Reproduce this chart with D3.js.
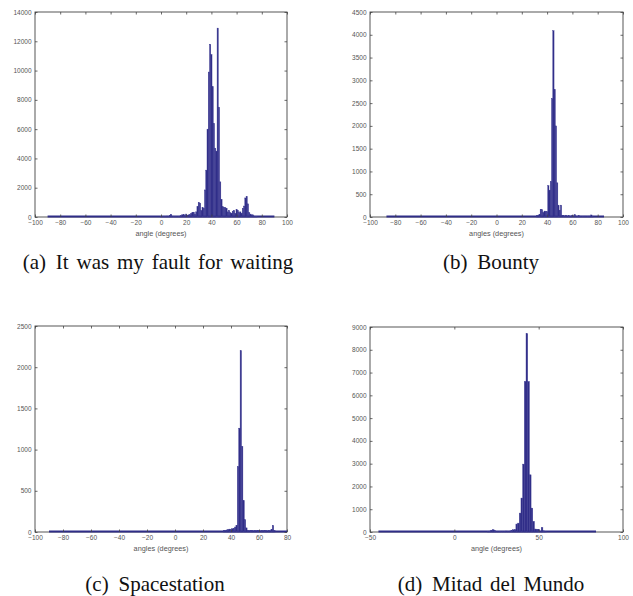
<!DOCTYPE html>
<html>
<head>
<meta charset="utf-8">
<script src="https://cdn.jsdelivr.net/npm/d3@7"></script>
<style>
  body { margin: 0; background: #fff; }
  svg { display: block; }
  .caption { font-family: "Liberation Serif", "Times New Roman", Times, serif; }
  .tick text, .axis-label { font-family: "Liberation Sans", Arial, Helvetica, sans-serif; }
</style>
</head>
<body>
<div id="home"></div>
<script>
// histogram counts, 1 degree bins, first value is the bin centred on firstX
var firstA = 0;
var countsA = [20, 20, 30, 20, 40, 60, 40, 120, 190, 60,
    30, 30, 40, 30, 40, 60, 100, 150, 180, 90,
    200, 120, 150, 180, 250, 320, 330, 200, 350, 700,
    1000, 950, 450, 650, 600, 1850, 3200, 6000, 9900, 11800,
    11100, 8900, 6400, 4700, 4500, 12900, 7500, 2400, 1200, 700,
    650, 650, 600, 350, 450, 300, 250, 400, 450, 250,
    500, 450, 300, 350, 250, 600, 750, 1300, 1400, 900,
    300, 200, 150, 150, 60, 40, 30];
var firstB = 32;
var countsB = [30, 40, 60, 170, 160, 100, 130, 120, 120, 690,
    590, 780, 2600, 4090, 2800, 2000, 750, 260, 150, 260,
    40, 30, 20, 40, 20, 30, 20, 20, 40, 20,
    50, 20, 20, 30, 20, 20, 20, 20, 20, 20,
    20, 20, 20, 45, 20];
var firstC = 35;
var countsC = [20, 20, 25, 30, 35, 30, 40, 45, 60, 80,
    795, 1260, 2200, 1040, 380, 150, 50, 20, 15, 15,
    20, 15, 15, 15, 20, 15, 15, 15, 15, 20,
    15, 15, 15, 15, 30, 80, 20];
var firstD = 20;
var countsD = [20, 40, 80, 100, 60, 20, 20, 30, 20, 20,
    30, 40, 30, 40, 60, 100, 100, 350, 390, 830,
    1490, 2980, 6610, 8710, 6610, 2510, 1050, 470, 130, 120,
    100, 40, 200, 50, 20];
// range of angles covered by the bins
var spanA = [-90, 90];
var spanB = [-87, 85];
var spanC = [-90, 80];
var spanD = [-45, 84];
// axis limits and ticks
var xTicksA = [-100, -80, -60, -40, -20, 0, 20, 40, 60, 80, 100];
var yTicksA = [0, 2000, 4000, 6000, 8000, 10000, 12000, 14000];
var xTicksB = [-100, -80, -60, -40, -20, 0, 20, 40, 60, 80, 100];
var yTicksB = [0, 500, 1000, 1500, 2000, 2500, 3000, 3500, 4000, 4500];
var xTicksC = [-100, -80, -60, -40, -20, 0, 20, 40, 60, 80];
var yTicksC = [0, 500, 1000, 1500, 2000, 2500];
var xTicksD = [-50, 0, 50, 100];
var yTicksD = [0, 1000, 2000, 3000, 4000, 5000, 6000, 7000, 8000, 9000];
var xLabels = ["angle (degrees)", "angles (degrees)", "angles (degrees)", "angle (degrees)"];
var tags = ["(a)", "(b)", "(c)", "(d)"];
var captions = ["It was my fault for waiting", "Bounty", "Spacestation", "Mitad del Mundo"];

const barColor = "#2f2d87";
const axisColor = "#444";
const labelColor = "#555";

var svgSelection = d3.select("#home").append("svg")
    .attr("width", 633)
    .attr("height", 596);

// box of each panel in pixels, and where its caption goes
var boxes = [
    {x0: 35, x1: 287, y0: 12, y1: 217, cx: 158, cy: 268.5},
    {x0: 370, x1: 623, y0: 12, y1: 217, cx: 491, cy: 268.5},
    {x0: 35, x1: 287, y0: 326, y1: 532, cx: 155, cy: 591},
    {x0: 370, x1: 623, y0: 327, y1: 532, cx: 491, cy: 591}
];

function buildPanel(i, first, counts, span, xTicks, yTicks) {
    var b = boxes[i];
    var x = d3.scaleLinear()
        .domain([xTicks[0], xTicks[xTicks.length - 1]])
        .range([b.x0, b.x1]);
    var y = d3.scaleLinear()
        .domain([0, yTicks[yTicks.length - 1]])
        .range([b.y1, b.y0]);
    var g = svgSelection.append("g");

    g.append("rect")
        .attr("x", b.x0)
        .attr("y", b.y0)
        .attr("width", b.x1 - b.x0)
        .attr("height", b.y1 - b.y0)
        .attr("fill", "none")
        .attr("stroke", axisColor)
        .attr("stroke-width", 0.9);

    //thin strip of bar edges along the baseline
    g.append("rect")
        .attr("x", x(span[0]))
        .attr("y", b.y1 - 1.5)
        .attr("width", x(span[1]) - x(span[0]))
        .attr("height", 2)
        .attr("fill", barColor);

    g.selectAll(".bar")
        .data(counts).enter()
        .append("rect")
        .attr("class", "bar")
        .attr("x", function (d, k) { return x(first + k - 0.5); })
        .attr("width", function (d, k) { return x(first + k + 0.5) - x(first + k - 0.5); })
        .attr("y", function (d) { return y(d); })
        .attr("height", function (d) { return b.y1 - y(d); })
        .attr("fill", barColor)
        .attr("stroke", "#3c3a93")
        .attr("stroke-width", 0.4);

    var bottom = g.append("g")
        .attr("transform", "translate(0," + b.y1 + ")")
        .call(d3.axisBottom(x).tickValues(xTicks).tickSize(-2.5).tickPadding(3.5));
    var top = g.append("g")
        .attr("transform", "translate(0," + b.y0 + ")")
        .call(d3.axisTop(x).tickValues(xTicks).tickSize(-2.5).tickFormat(""));
    var left = g.append("g")
        .attr("transform", "translate(" + b.x0 + ",0)")
        .call(d3.axisLeft(y).tickValues(yTicks).tickSize(-2.5).tickPadding(3.5).tickFormat(d3.format("d")));
    var right = g.append("g")
        .attr("transform", "translate(" + b.x1 + ",0)")
        .call(d3.axisRight(y).tickValues(yTicks).tickSize(-2.5).tickFormat(""));

    [bottom, top, left, right].forEach(function (a) {
        a.attr("font-family", null);
        a.select(".domain").remove();
        a.selectAll("line").attr("stroke", axisColor).attr("stroke-width", 0.8);
        a.selectAll("text")
            .attr("fill", labelColor)
            .style("font-size", "6.5px");
    });

    g.append("text")
        .attr("class", "axis-label")
        .attr("x", (b.x0 + b.x1) / 2)
        .attr("y", b.y1 + 18.5)
        .attr("text-anchor", "middle")
        .attr("fill", labelColor)
        .style("font-size", "7.3px")
        .text(xLabels[i]);

    var cap = g.append("text")
        .attr("class", "caption")
        .attr("x", b.cx)
        .attr("y", b.cy)
        .attr("text-anchor", "middle")
        .attr("fill", "#111")
        .style("font-size", "21px")
        .style("word-spacing", "2.6px");
    cap.append("tspan").text(tags[i]);
    cap.append("tspan").attr("dx", 2).text(" " + captions[i]);
}

buildPanel(0, firstA, countsA, spanA, xTicksA, yTicksA);
buildPanel(1, firstB, countsB, spanB, xTicksB, yTicksB);
buildPanel(2, firstC, countsC, spanC, xTicksC, yTicksC);
buildPanel(3, firstD, countsD, spanD, xTicksD, yTicksD);
</script>
</body>
</html>
